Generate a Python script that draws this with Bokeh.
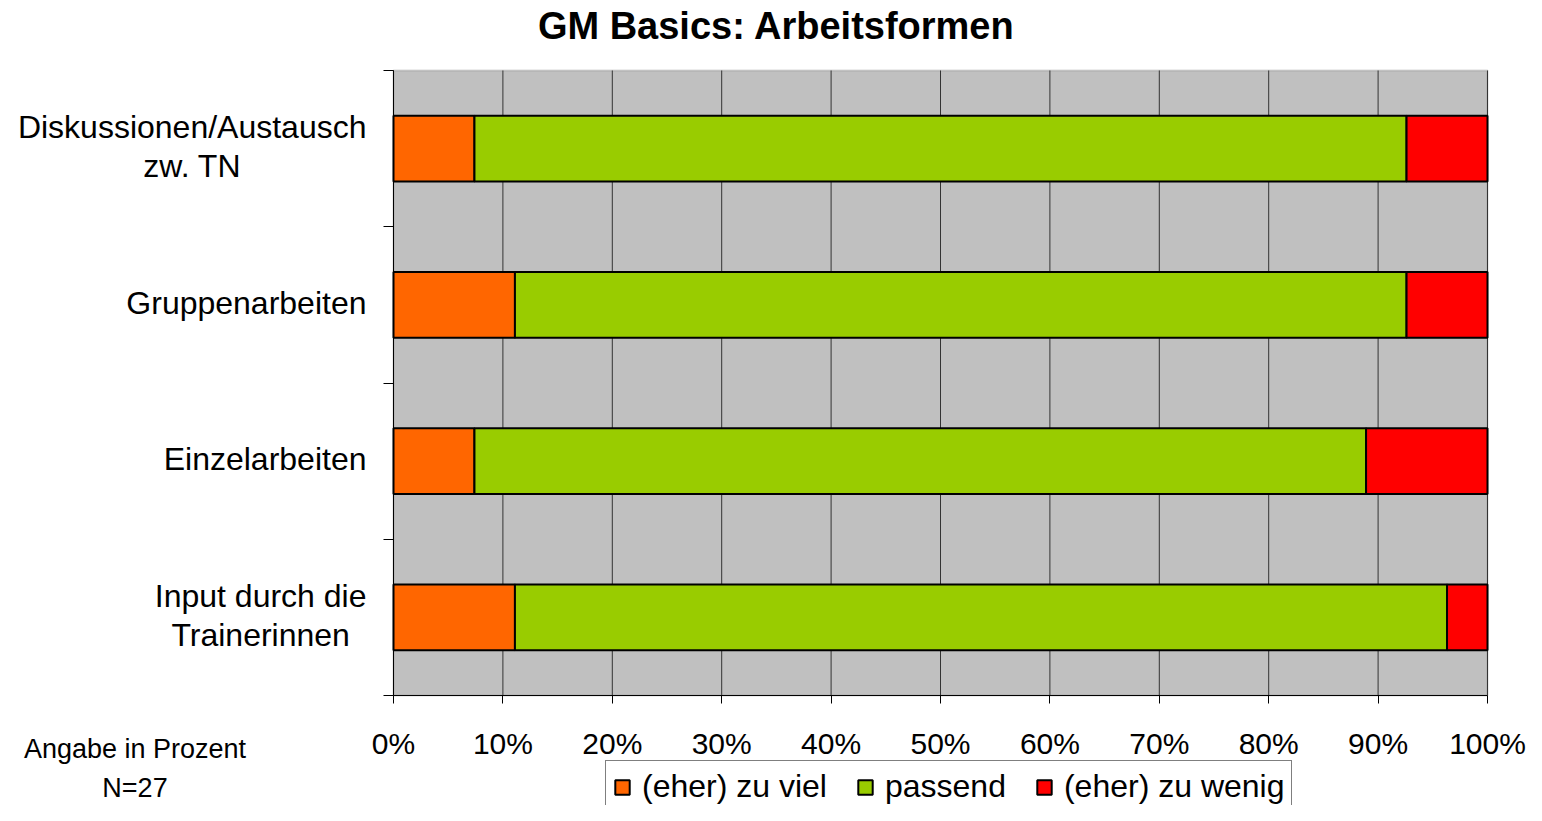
from bokeh.plotting import figure
from bokeh.models import (ColumnDataSource, Range1d, FixedTicker, Legend, LegendItem, Label,
                          BoxAnnotation)
from bokeh.embed import file_html
from bokeh.resources import INLINE

# ---- data ----
categories = ["Diskussionen/Austausch\nzw. TN", "Gruppenarbeiten", "Einzelarbeiten",
              "Input durch die\nTrainerinnen"]
zu_viel = [7.4, 11.1, 7.4, 11.1]
passend = [85.2, 81.5, 81.5, 85.2]
zu_wenig = [7.4, 7.4, 11.1, 3.7]
series_names = ["(eher) zu viel", "passend", "(eher) zu wenig"]
series_colors = ["#FF6600", "#99CC00", "#FF0000"]
x_ticks = [0, 10, 20, 30, 40, 50, 60, 70, 80, 90, 100]
x_tick_labels = ["0%", "10%", "20%", "30%", "40%", "50%", "60%", "70%", "80%", "90%", "100%"]
title_text = "GM Basics: Arbeitsformen"
note_lines = ["Angabe in Prozent", "N=27"]

# ---- layout (pixels) ----
FONT = "Liberation Sans"
W, H = 1526, 805
PL, PR, PT, PB = 393, 1487, 70, 695   # plot area edges in canvas pixels
XMIN, XMAX = x_ticks[0], x_ticks[-1]
n = len(categories)
kx = (PR - PL) / (XMAX - XMIN)
ky = (PB - PT) / n
x_range = Range1d(XMIN - PL / kx, XMAX + (W - PR) / kx)
y_range = Range1d(0 - (H - PB) / ky, n + PT / ky)

ypos = [n - i - 0.5 for i in range(n)]
src = ColumnDataSource(dict(y=ypos, zu_viel=zu_viel, passend=passend, zu_wenig=zu_wenig))

p = figure(width=W, height=H, output_backend="svg", toolbar_location=None,
           x_range=x_range, y_range=y_range, min_border=0, title=None)
p.background_fill_color = "white"
p.border_fill_color = "white"
p.outline_line_color = None
p.xgrid.visible = False
p.ygrid.visible = False

# plot area background
p.add_layout(BoxAnnotation(left=XMIN, right=XMAX, bottom=0, top=n, fill_color="#C0C0C0",
                           fill_alpha=1.0, line_color="#808080", line_width=2, level="underlay"))

# vertical grid lines
p.segment(x0=x_ticks, y0=[0] * len(x_ticks), x1=x_ticks, y1=[n] * len(x_ticks),
          line_color="#333333", line_width=1)

# bars
renderers = p.hbar_stack(["zu_viel", "passend", "zu_wenig"], y="y", height=0.42, source=src,
                         color=series_colors, line_color="black", line_width=2)

# x axis
xa = p.xaxis[0]
xa.fixed_location = 0
xa.bounds = (XMIN, XMAX)
xa.ticker = FixedTicker(ticks=x_ticks)
xa.major_label_overrides = {t: l for t, l in zip(x_ticks, x_tick_labels)}
xa.major_tick_out = 8
xa.major_tick_in = 0
xa.major_tick_line_color = "black"
xa.minor_tick_line_color = None
xa.axis_line_color = "black"
xa.major_label_text_font = FONT
xa.major_label_text_font_size = "30px"
xa.major_label_text_color = "black"
xa.major_label_standoff = 23

# y axis: ticks at category boundaries, category names as centred labels
ya = p.yaxis[0]
ya.fixed_location = XMIN
ya.bounds = (0, n)
ya.ticker = FixedTicker(ticks=[], minor_ticks=list(range(n + 1)))
ya.major_tick_line_color = None
ya.major_tick_out = 0
ya.major_tick_in = 0
ya.minor_tick_line_color = "black"
ya.minor_tick_out = 10
ya.minor_tick_in = 0
ya.axis_line_color = "black"

for yv, cat in zip(ypos, categories):
    p.add_layout(Label(x=XMIN, y=yv, x_offset=-27, y_offset=2, text=cat, anchor="center_right",
                       text_align="center", text_baseline="middle", text_font=FONT,
                       text_font_size="32px", text_color="black", text_line_height=1.1))

# title
p.add_layout(Label(x=776, y=H - 25, x_units="screen", y_units="screen", text=title_text,
                   text_align="center", text_baseline="middle", text_font=FONT,
                   text_font_size="38px", text_font_style="bold", text_color="black"))

# legend
items = [LegendItem(label=nm, renderers=[r]) for nm, r in zip(series_names, renderers)]
legend = Legend(items=items, orientation="horizontal", location=(605, H - 763 - 50),
                label_text_font=FONT, label_text_font_size="32px", label_text_color="black",
                glyph_width=18, glyph_height=18, label_standoff=11, spacing=29,
                padding=7, margin=0, border_line_color="black", border_line_width=1,
                background_fill_color="white", background_fill_alpha=1.0)
p.add_layout(legend, "center")

# note
for i, line in enumerate(note_lines):
    p.add_layout(Label(x=134.5, y=H - 748 - 39 * i, x_units="screen", y_units="screen",
                       text=line, text_align="center", text_baseline="middle", text_font=FONT,
                       text_font_size="27px", text_color="black"))

open("out.html", "w").write(file_html(p, INLINE))
